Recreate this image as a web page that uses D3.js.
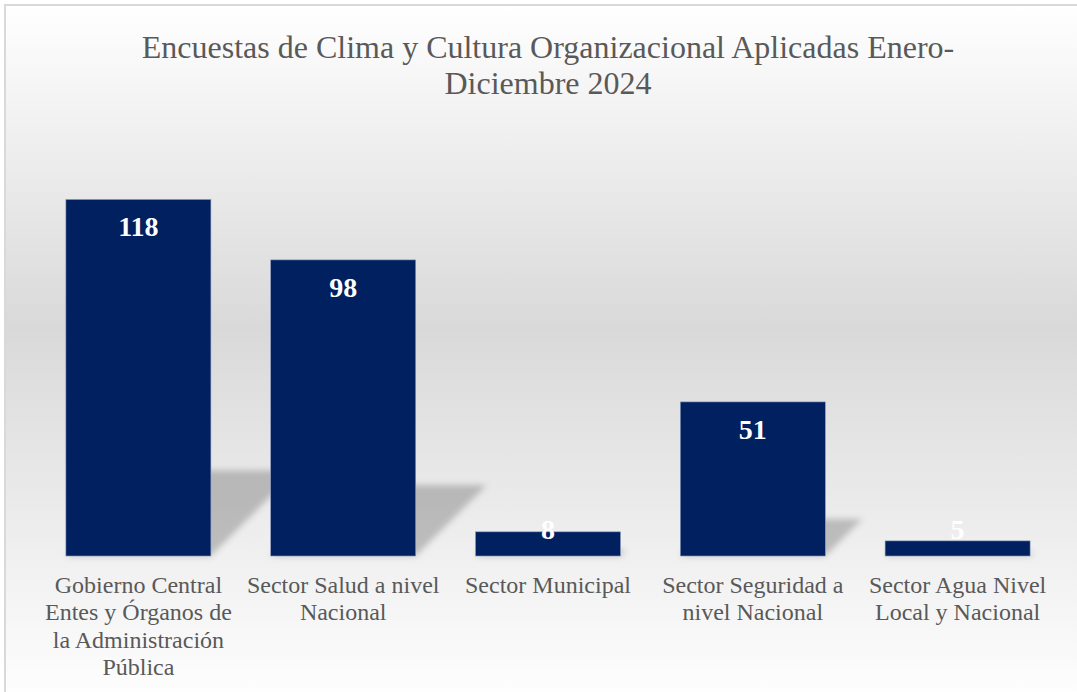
<!DOCTYPE html>
<html>
<head>
<meta charset="utf-8">
<script src="https://cdn.jsdelivr.net/npm/d3@7"></script>
<style>
  body { margin: 0; background: #fff; }
  svg { display: block; font-family: "Liberation Serif", "Times New Roman", serif; }
</style>
</head>
<body>
<div id="chart"></div>
<script>
// data
var categories = [
    "Gobierno Central\nEntes y Órganos de\nla Administración\nPública",
    "Sector Salud a nivel\nNacional",
    "Sector Municipal",
    "Sector Seguridad a\nnivel Nacional",
    "Sector Agua Nivel\nLocal y Nacional"
];
var values = [118, 98, 8, 51, 5];
var titleLines = ["Encuestas de Clima y Cultura Organizacional Aplicadas Enero-", "Diciembre 2024"];
var yMax = 140;

var width = 1077, height = 692;
var barColor = "#002060";

var svg = d3.select("#chart").append("svg")
    .attr("width", width)
    .attr("height", height);

var defs = svg.append("defs");
var bg = defs.append("linearGradient")
    .attr("id", "bgGrad")
    .attr("x1", 0).attr("y1", 0).attr("x2", 0).attr("y2", 1);
bg.append("stop").attr("offset", "0%").attr("stop-color", "#ffffff");
bg.append("stop").attr("offset", "46%").attr("stop-color", "#d9d9d9");
bg.append("stop").attr("offset", "100%").attr("stop-color", "#ffffff");

defs.append("filter")
    .attr("id", "blur")
    .attr("x", "-20%").attr("y", "-20%").attr("width", "140%").attr("height", "140%")
    .append("feGaussianBlur")
    .attr("stdDeviation", 3);

// chart area with gradient and thin grey frame
svg.append("rect")
    .attr("x", 5).attr("y", 5)
    .attr("width", width + 10).attr("height", height + 10)
    .attr("fill", "url(#bgGrad)")
    .attr("stroke", "#d9d9d9")
    .attr("stroke-width", 2);

// title
svg.append("text")
    .attr("x", 548)
    .attr("y", 58)
    .attr("text-anchor", "middle")
    .attr("fill", "#595959")
    .style("font-size", "32px")
    .selectAll("tspan")
    .data(titleLines)
    .enter().append("tspan")
    .attr("x", 548)
    .attr("dy", function (d, i) { return i ? 36 : 0; })
    .text(function (d) { return d; });

var x = d3.scaleBand()
    .domain(categories)
    .range([36, 1060])
    .paddingInner(0.292)
    .paddingOuter(0.146);

var y = d3.scaleLinear()
    .domain([0, yMax])
    .range([556, 133]);

var data = categories.map(function (c, i) { return {cat: c, val: values[i]}; });

// perspective shadows behind the bars
var k = 0.24;
svg.append("g")
    .attr("filter", "url(#blur)")
    .selectAll("path")
    .data(data)
    .enter().append("path")
    .attr("fill", "#000")
    .attr("fill-opacity", 0.21)
    .attr("d", function (d) {
        var x0 = x(d.cat), x1 = x0 + x.bandwidth();
        var b = y(0), h = (y(0) - y(d.val)) * k;
        return "M" + x0 + "," + b + "L" + x1 + "," + b +
            "L" + (x1 + h) + "," + (b - h) + "L" + (x0 + h) + "," + (b - h) + "Z";
    });

// bars
svg.append("g")
    .selectAll("rect")
    .data(data)
    .enter().append("rect")
    .attr("x", function (d) { return x(d.cat); })
    .attr("y", function (d) { return y(d.val); })
    .attr("width", x.bandwidth())
    .attr("height", function (d) { return y(0) - y(d.val); })
    .attr("fill", barColor)
    .attr("stroke", "#8d9abb")
    .attr("stroke-width", 0.6);

// value labels (inside end)
svg.append("g")
    .selectAll("text")
    .data(data)
    .enter().append("text")
    .attr("x", function (d) { return x(d.cat) + x.bandwidth() / 2; })
    .attr("y", function (d) { return Math.min(y(d.val) + 37, y(0) - 17); })
    .attr("text-anchor", "middle")
    .attr("fill", "#ffffff")
    .style("font-size", "28px")
    .style("font-weight", "bold")
    .text(function (d) { return d.val; });

// category axis
var xAxis = svg.append("g")
    .attr("transform", "translate(0," + y(0) + ")")
    .call(d3.axisBottom(x).tickSize(0).tickPadding(0));
xAxis.select(".domain").remove();
xAxis.selectAll(".tick text").each(function (d) {
    var t = d3.select(this).text(null)
        .attr("fill", "#595959")
        .attr("y", 37)
        .attr("dy", null)
        .style("font-size", "24px")
        .style("font-family", "'Liberation Serif', 'Times New Roman', serif");
    d.split("\n").forEach(function (line, i) {
        t.append("tspan")
            .attr("x", 0)
            .attr("dy", i ? 27.3 : 0)
            .text(line);
    });
});
</script>
</body>
</html>
